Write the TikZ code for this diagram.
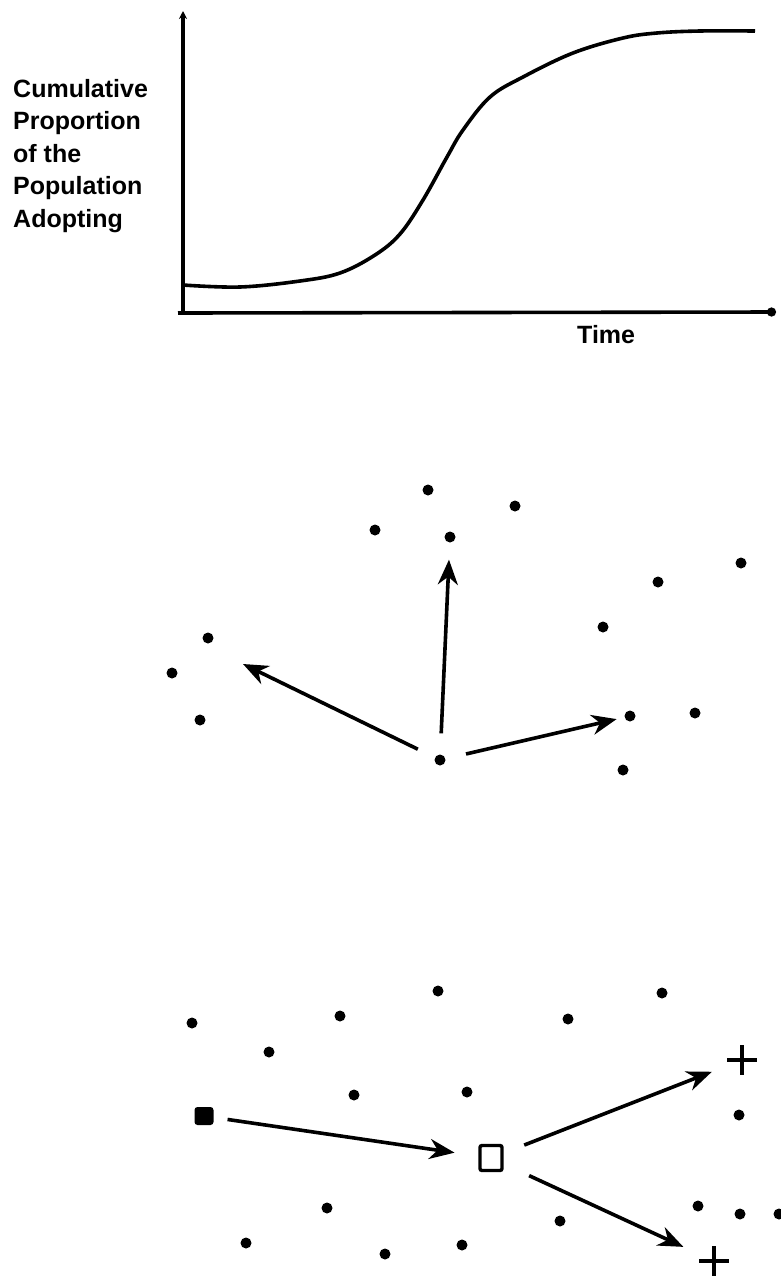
\documentclass[tikz,border=0pt]{standalone}
\usepackage{fontspec}
\setmainfont{Liberation Sans}
\usetikzlibrary{arrows.meta}

\begin{document}
\begin{tikzpicture}[x=1pt, y=-1pt,
  spot/.style={circle, fill, inner sep=0pt, minimum size=#1},
  spot/.default=11pt,
  lbl/.style={font=\bfseries\fontsize{25}{32.5}\selectfont, inner sep=0pt},
  axis/.style={line width=3.6pt},
  arr/.style={-{Stealth[length=25pt, width=20pt, inset=8pt]}, line width=3.6pt},
  plusmark/.style={minimum size=#1, inner sep=0pt,
    path picture={\draw[line width=3.6pt] (path picture bounding box.north) -- (path picture bounding box.south)
      (path picture bounding box.west) -- (path picture bounding box.east);}},
  plusmark/.default=30pt]
\useasboundingbox (0,0) rectangle (780,1278);

% diffusion curve
\coordinate (orig) at (183,313);
\draw[axis, -{Stealth[length=8pt, width=8pt]}] (orig) -- (183,11);
\draw[axis, -{Circle[length=9pt]}] (178,313) -- (776,312);
\draw[axis] plot[smooth, tension=0.6] coordinates {(183,285) (240,287) (300,281) (340,273) (375,255)
  (400,234) (423,200) (447,157) (463,130) (490,97) (523,77) (573,53) (623,38) (657,33) (700,31) (755,31)};
\node[lbl, anchor=north west, align=left] (ylab) at (13,79) {Cumulative\\ Proportion\\ of the\\ Population\\ Adopting};
\node[lbl, anchor=base west] (xlab) at (577,343) {Time};

% spread outward from one adopter
\node[spot] (ctr) at (440,760) {};
\node[spot] (up) at (450,537) {};
\node[spot] (east) at (630,716) {};
\coordinate (west) at (243,664);
\node[spot] (m1) at (428,490) {};
\node[spot] (m2) at (515,506) {};
\node[spot] (m3) at (375,530) {};
\node[spot] (m4) at (741,563) {};
\node[spot] (m5) at (658,582) {};
\node[spot] (m6) at (208,638) {};
\node[spot] (m7) at (603,627) {};
\node[spot] (m8) at (172,673) {};
\node[spot] (m9) at (200,720) {};
\node[spot] (m10) at (695,713) {};
\node[spot] (m11) at (623,770) {};
\draw[arr, shorten <=21pt, shorten >=17pt] (ctr) -- (up);
\draw[arr, shorten <=21pt, shorten >=8pt] (ctr) -- (east);
\draw[arr, shorten <=19pt] (ctr) -- (west);

% relay through an intermediary
\node[fill, rounded corners=3pt, minimum width=19pt, minimum height=18pt, inner sep=0pt] (src) at (204,1116) {};
\node[draw, line width=3.4pt, rounded corners=2pt, minimum width=22pt, minimum height=25pt, inner sep=0pt] (hub) at (491,1158) {};
\node[plusmark] (p1) at (742,1060) {};
\node[plusmark] (p2) at (714,1261) {};
\node[spot] (b1) at (438,991) {};
\node[spot] (b2) at (662,993) {};
\node[spot] (b3) at (192,1023) {};
\node[spot] (b4) at (340,1016) {};
\node[spot] (b5) at (568,1019) {};
\node[spot] (b6) at (269,1052) {};
\node[spot] (b7) at (354,1095) {};
\node[spot] (b8) at (467,1092) {};
\node[spot] (b9) at (739,1115) {};
\node[spot] (b10) at (327,1208) {};
\node[spot] (b11) at (560,1221) {};
\node[spot] (b12) at (246,1243) {};
\node[spot] (b13) at (385,1254) {};
\node[spot] (b14) at (462,1245) {};
\node[spot] (b15) at (698,1206) {};
\node[spot] (b16) at (740,1214) {};
\node[spot] (b17) at (779,1214) {};
\draw[arr, shorten <=14pt, shorten >=24pt] (src) -- (hub);
\draw[arr, shorten <=22pt, shorten >=16pt] (hub) -- (p1);
\draw[arr, shorten <=28pt, shorten >=17pt] (hub) -- (p2);
\end{tikzpicture}
\end{document}
